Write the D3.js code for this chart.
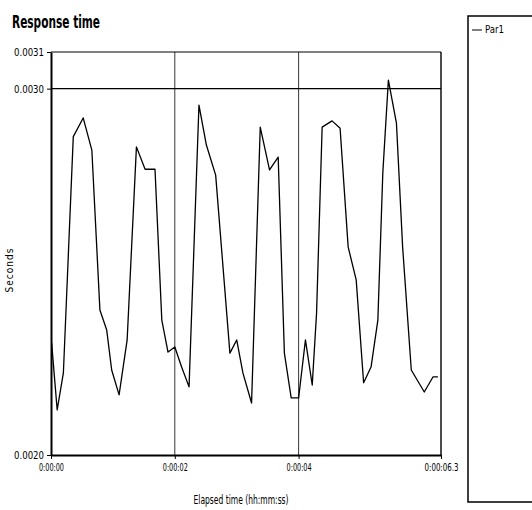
<!DOCTYPE html>
<html>
<head>
<meta charset="utf-8">
<script src="https://cdn.jsdelivr.net/npm/d3@7"></script>
<style>
  body { margin: 0; background: #fff; }
  text { font-family: "Liberation Sans Narrow", "DejaVu Sans Condensed", "Liberation Sans", Arial, sans-serif; fill: #000; }
</style>
</head>
<body>
<svg id="chart" width="532" height="510"></svg>
<script>
// elapsed time in seconds for each sample of Par1
var times = [0.01, 0.10, 0.20, 0.36, 0.52, 0.66, 0.79, 0.90, 0.98, 1.10,
  1.23, 1.38, 1.52, 1.68, 1.79, 1.89, 2.00, 2.11, 2.23, 2.39,
  2.51, 2.66, 2.89, 3.00, 3.10, 3.24, 3.38, 3.53, 3.67, 3.77,
  3.88, 4.00, 4.11, 4.22, 4.29, 4.38, 4.54, 4.67, 4.80, 4.93,
  5.05, 5.17, 5.28, 5.36, 5.45, 5.58, 5.68, 5.82, 6.03, 6.17, 6.25];
// response time in seconds
var par1 = [0.002306, 0.002123, 0.002224, 0.002869, 0.002920, 0.002832, 0.002396, 0.002341, 0.002232, 0.002164,
  0.002314, 0.002841, 0.002780, 0.002780, 0.002368, 0.002281, 0.002295, 0.002240, 0.002186, 0.002955,
  0.002846, 0.002764, 0.002278, 0.002314, 0.002224, 0.002142, 0.002895, 0.002778, 0.002813, 0.002278,
  0.002156, 0.002156, 0.002314, 0.002191, 0.002388, 0.002895, 0.002912, 0.002892, 0.002568, 0.002478,
  0.002197, 0.002240, 0.002368, 0.002770, 0.003023, 0.002906, 0.002568, 0.002232, 0.002172, 0.002213, 0.002213];
// axis ticks
var xTicks = [0, 2, 4, 6.3];
var xTickLabels = ['0:00:00', '0:00:02', '0:00:04', '0:00:06.3'];
var yTicks = [0.0020, 0.0030, 0.0031];
var yTickLabels = ['0.0020', '0.0030', '0.0031'];
var seriesNames = ['Par1'];

var svg = d3.select('#chart');
var pLeft = 51, pRight = 441, pTop = 52, pBottom = 455;

var x = d3.scaleLinear().domain([0, 6.3]).range([pLeft, pRight]);
var y = d3.scaleLinear().domain([0.0020, 0.0031]).range([pBottom, pTop]);

// title
svg.append('text')
  .attr('x', 12).attr('y', 28)
  .attr('textLength', 88).attr('lengthAdjust', 'spacingAndGlyphs')
  .style('font-size', '17px').style('font-weight', 'bold')
  .text('Response time');

// gridlines
svg.selectAll('.vgrid')
  .data([2, 4])
  .enter().append('line')
  .attr('x1', function(d) { return x(d); }).attr('x2', function(d) { return x(d); })
  .attr('y1', pTop).attr('y2', pBottom)
  .attr('stroke', '#000').attr('stroke-width', 0.8);
svg.append('line')
  .attr('x1', pLeft).attr('x2', pRight)
  .attr('y1', y(0.0030)).attr('y2', y(0.0030))
  .attr('stroke', '#000').attr('stroke-width', 1.2);

// frame: top and right border
svg.append('line').attr('x1', pLeft).attr('x2', pRight).attr('y1', pTop).attr('y2', pTop)
  .attr('stroke', '#000').attr('stroke-width', 1.2);
svg.append('line').attr('x1', pRight).attr('x2', pRight).attr('y1', pTop).attr('y2', pBottom)
  .attr('stroke', '#000').attr('stroke-width', 1.4);

// axes
var xAxis = d3.axisBottom(x).tickValues(xTicks)
  .tickFormat(function(d, i) { return xTickLabels[i]; }).tickSize(4).tickSizeOuter(0);
var gx = svg.append('g').attr('transform', 'translate(0,' + pBottom + ')').call(xAxis);
gx.select('.domain').attr('stroke-width', 2);
gx.selectAll('text')
  .attr('dy', '0.85em')
  .attr('textLength', function(d, i) { return i === 3 ? 34 : 25; })
  .attr('lengthAdjust', 'spacingAndGlyphs')
  .style('font-size', '11px').style('font-family', null);

var yAxis = d3.axisLeft(y).tickValues(yTicks)
  .tickFormat(function(d, i) { return yTickLabels[i]; }).tickSize(4).tickSizeOuter(0);
var gy = svg.append('g').attr('transform', 'translate(' + pLeft + ',0)').call(yAxis);
gy.select('.domain').attr('stroke-width', 2);
gy.selectAll('text')
  .attr('textLength', 30).attr('lengthAdjust', 'spacingAndGlyphs')
  .style('font-size', '11px').style('font-family', null);

// axis titles
svg.append('text')
  .attr('x', 241).attr('y', 504)
  .attr('text-anchor', 'middle')
  .attr('textLength', 95).attr('lengthAdjust', 'spacingAndGlyphs')
  .style('font-size', '12px')
  .text('Elapsed time (hh:mm:ss)');
svg.append('text')
  .attr('transform', 'translate(13,270) rotate(-90)')
  .attr('text-anchor', 'middle')
  .style('font-size', '10px')
  .style('letter-spacing', '1px')
  .text('Seconds');

// data line
var line = d3.line()
  .x(function(d, i) { return x(times[i]); })
  .y(function(d) { return y(d); });
svg.append('path')
  .datum(par1)
  .attr('d', line)
  .attr('fill', 'none')
  .attr('stroke', '#000')
  .attr('stroke-width', 1.3)
  .attr('stroke-linejoin', 'round');

// legend box
var legend = svg.append('g').attr('transform', 'translate(468,16)');
legend.append('rect')
  .attr('x', 0).attr('y', 0).attr('width', 80).attr('height', 486)
  .attr('fill', 'none').attr('stroke', '#000').attr('stroke-width', 1.5);
var items = legend.selectAll('.item')
  .data(seriesNames)
  .enter().append('g')
  .attr('transform', function(d, i) { return 'translate(4,' + (14 + i * 12) + ')'; });
items.append('line')
  .attr('x1', 0).attr('x2', 10).attr('y1', 0).attr('y2', 0)
  .attr('stroke', '#000').attr('stroke-width', 1);
items.append('text')
  .attr('x', 13).attr('y', 3)
  .attr('textLength', 19).attr('lengthAdjust', 'spacingAndGlyphs')
  .style('font-size', '10px')
  .text(function(d) { return d; });
</script>
</body>
</html>
